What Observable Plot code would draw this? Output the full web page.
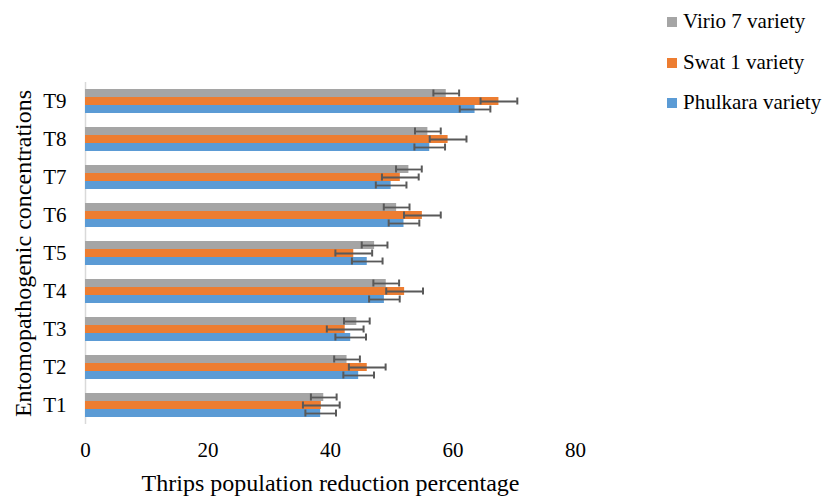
<!DOCTYPE html>
<html>
<head>
<meta charset="utf-8">
<script src="https://cdn.jsdelivr.net/npm/d3@7"></script>
<script src="https://cdn.jsdelivr.net/npm/@observablehq/plot@0.6"></script>
<style>
  html, body { margin: 0; padding: 0; background: #fff; }
  #wrap { position: relative; width: 826px; height: 497px; font-family: "Liberation Serif", "Times New Roman", serif; }
  #legend { position: absolute; left: 667px; top: 0; }
  .item { position: absolute; white-space: nowrap; font-size: 21px; color: #000; }
  .sw { position: absolute; width: 10px; height: 10px; }
</style>
</head>
<body>
<div id="wrap"><div id="legend"></div></div>
<script>
const treatments = ["T1", "T2", "T3", "T4", "T5", "T6", "T7", "T8", "T9"];
const seriesNames = ["Virio 7 variety", "Swat 1 variety", "Phulkara variety"];
const seriesColors = ["#A5A5A5", "#ED7D31", "#5B9BD5"];
const virio    = [38.9, 42.7, 44.3, 49.1, 47.2, 50.8, 52.8, 55.9, 58.9];
const swat     = [38.5, 46.0, 42.4, 52.1, 43.8, 55.0, 51.4, 59.2, 67.5];
const phulkara = [38.4, 44.6, 43.3, 48.8, 46.0, 52.0, 49.9, 56.2, 63.6];
const virioErr    = [2.1, 2.1, 2.1, 2.1, 2.1, 2.1, 2.1, 2.1, 2.1];
const swatErr     = [3.0, 3.0, 3.0, 3.0, 3.0, 3.0, 3.0, 3.0, 3.0];
const phulkaraErr = [2.5, 2.5, 2.5, 2.5, 2.5, 2.5, 2.5, 2.5, 2.5];
const xTicks = [0, 20, 40, 60, 80];
const xTitle = "Thrips population reduction percentage";
const yTitle = "Entomopathogenic concentrations";

const seriesValues = [virio, swat, phulkara];
const seriesErrors = [virioErr, swatErr, phulkaraErr];
const tables = seriesValues.map((vals, s) =>
  treatments.map((t, i) => ({t, v: vals[i], lo: vals[i] - seriesErrors[s][i], hi: vals[i] + seriesErrors[s][i]}))
);

const serif = "'Liberation Serif', 'Times New Roman', serif";
const bw = 24, sub = bw / 3;
const marks = [
  Plot.ruleX([0], {stroke: "#D9D9D9", strokeWidth: 1.5})
];
tables.forEach((data, s) => {
  const insetTop = s * sub, insetBottom = (2 - s) * sub;
  marks.push(Plot.barX(data, {x: "v", y: "t", fill: seriesColors[s], insetTop, insetBottom}));
});
tables.forEach((data, s) => {
  const insetTop = s * sub, insetBottom = (2 - s) * sub;
  const dy = (s - 1) * sub;
  marks.push(Plot.ruleY(data, {y: "t", x1: "lo", x2: "hi", dy, stroke: "#595959", strokeWidth: 1.8}));
  marks.push(Plot.tickX(data, {x: "lo", y: "t", insetTop: insetTop + 0.5, insetBottom: insetBottom + 0.5, stroke: "#595959", strokeWidth: 2}));
  marks.push(Plot.tickX(data, {x: "hi", y: "t", insetTop: insetTop + 0.5, insetBottom: insetBottom + 0.5, stroke: "#595959", strokeWidth: 2}));
});
marks.push(Plot.axisX({ticks: xTicks, tickSize: 0, tickPadding: 18, label: null, fontSize: 21, fontFamily: serif}));
marks.push(Plot.axisY({tickSize: 0, tickPadding: 19, label: null, fontSize: 21, fontFamily: serif}));
marks.push(Plot.text([xTitle], {text: d => d, frameAnchor: "bottom", lineAnchor: "middle", textAnchor: "middle", dy: 58.5, dx: 0, fontSize: 24, fontFamily: serif}));
marks.push(Plot.text([yTitle], {text: d => d, frameAnchor: "left", lineAnchor: "middle", textAnchor: "middle", dx: -62.5, rotate: -90, fontSize: 24, fontFamily: serif}));

const chart = Plot.plot({
  width: 826,
  height: 497,
  marginLeft: 85,
  marginRight: 251,
  marginTop: 82,
  marginBottom: 73,
  style: {fontFamily: serif, fontSize: "21px", color: "#000", background: "#fff"},
  x: {domain: [0, 80]},
  y: {domain: treatments.slice().reverse(), paddingInner: 0.3684, paddingOuter: 0.1842, align: 0.5},
  marks
});
chart.style.position = "absolute";
chart.style.left = "0";
chart.style.top = "0";
document.getElementById("wrap").prepend(chart);

const legend = document.getElementById("legend");
seriesNames.forEach((name, i) => {
  const top = 17 + i * 40.7;
  const sw = document.createElement("div");
  sw.className = "sw";
  sw.style.left = "0px";
  sw.style.top = top + "px";
  sw.style.background = seriesColors[i];
  legend.appendChild(sw);
  const tx = document.createElement("div");
  tx.className = "item";
  tx.style.left = "16px";
  tx.style.top = (top - 8) + "px";
  tx.style.lineHeight = "24px";
  tx.textContent = name;
  legend.appendChild(tx);
});
</script>
</body>
</html>
